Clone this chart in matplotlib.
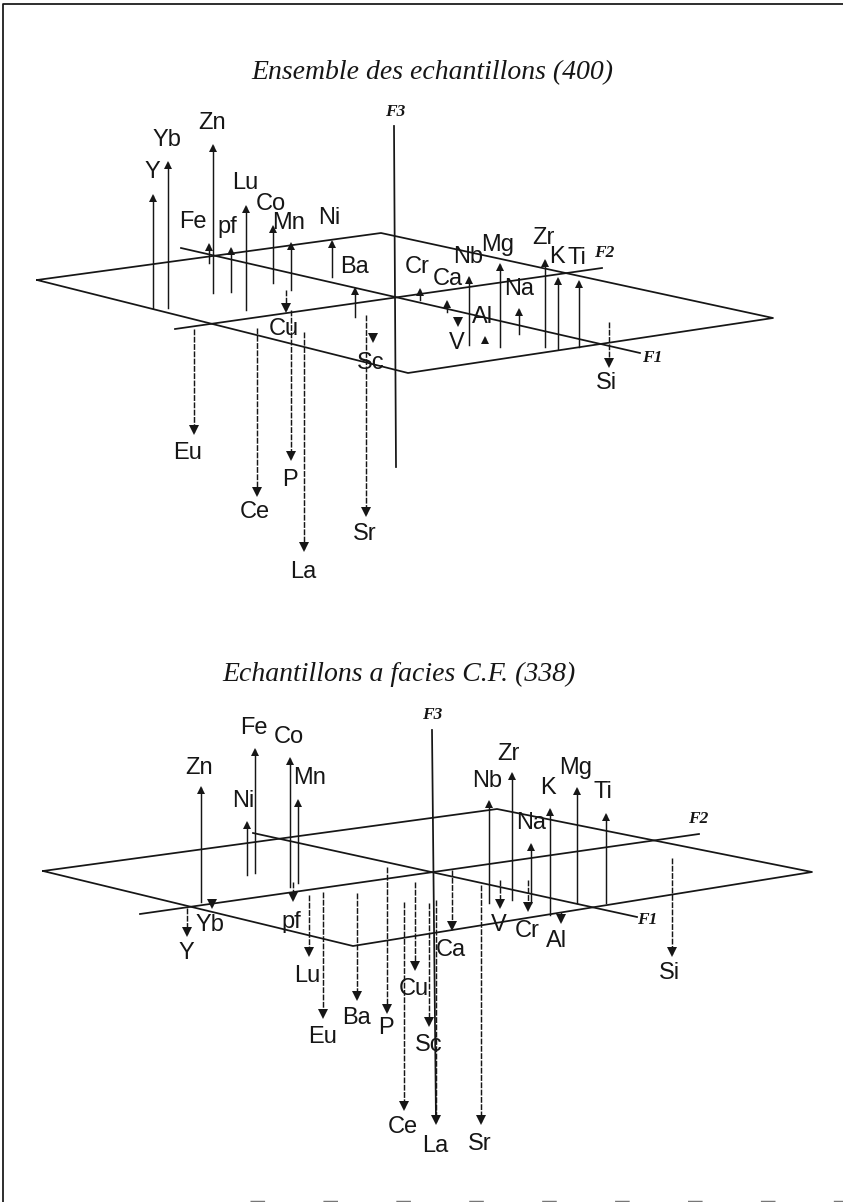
import matplotlib
matplotlib.use("Agg")
import matplotlib.pyplot as plt

# ---- top panel ----
top_title = "Ensemble des echantillons (400)"
top_plane_x = [37, 381, 773, 408, 37]
top_plane_y = [280, 233, 318, 373, 280]
top_f1 = ([181, 640], [248, 353])
top_f2 = ([175, 602], [329, 268])
top_f3 = ([394, 396], [126, 467])

top_up_names = ["Y", "Yb", "Zn", "Fe", "pf", "Lu", "Co", "Mn", "Ni", "Ba", "Cr", "Ca", "Nb", "Mg", "Na", "Zr", "K", "Ti", "Al"]
top_up_x = [153, 168, 213, 209, 231, 246, 273, 291, 332, 355, 420, 447, 469, 500, 519, 545, 558, 579, 485]
top_up_base = [308, 308, 293, 263, 292, 310, 283, 290, 277, 317, 300, 312, 345, 347, 334, 347, 349, 347, 342]
top_up_tip = [196, 163, 146, 245, 249, 207, 227, 244, 242, 289, 290, 302, 278, 265, 310, 261, 279, 282, 338]

top_down_names = ["Cu", "P", "Sc", "Sr", "Eu", "Ce", "La", "V", "Si"]
top_down_x = [286, 291, 373, 366, 194, 257, 304, 458, 609]
top_down_base = [290, 310, 335, 315, 329, 328, 332, 317, 322]
top_down_tip = [310, 458, 340, 514, 432, 494, 549, 324, 365]

top_label_names = ["Y", "Yb", "Zn", "Fe", "pf", "Lu", "Co", "Mn", "Ni", "Ba", "Cr", "Ca", "Nb", "Mg", "Na", "Zr", "K", "Ti", "Al",
                   "Cu", "P", "Sc", "Sr", "Eu", "Ce", "La", "V", "Si"]
top_label_x = [152, 167, 212, 193, 227, 245, 271, 289, 329, 354, 417, 448, 468, 498, 519, 543, 557, 577, 483,
               284, 290, 371, 365, 188, 255, 303, 457, 606]
top_label_y = [172, 140, 123, 222, 227, 183, 204, 223, 218, 267, 267, 279, 257, 245, 289, 238, 257, 258, 317,
               329, 480, 363, 534, 453, 512, 572, 343, 383]

# ---- bottom panel ----
bot_title = "Echantillons a facies C.F. (338)"
bot_plane_x = [43, 497, 812, 353, 43]
bot_plane_y = [871, 809, 872, 946, 871]
bot_f1 = ([253, 637], [833, 917])
bot_f2 = ([140, 699], [914, 834])
bot_f3 = ([432, 436], [730, 1122])

bot_up_names = ["Zn", "Ni", "Fe", "Co", "Mn", "Nb", "Zr", "Na", "K", "Mg", "Ti"]
bot_up_x = [201, 247, 255, 290, 298, 489, 512, 531, 550, 577, 606]
bot_up_base = [902, 875, 873, 887, 883, 903, 900, 903, 915, 903, 903]
bot_up_tip = [788, 823, 750, 759, 801, 802, 774, 845, 810, 789, 815]

bot_down_names = ["Y", "Yb", "pf", "Lu", "Eu", "Ba", "P", "Ce", "Cu", "Sc", "Ca", "Sr", "La", "V", "Cr", "Al", "Si"]
bot_down_x = [187, 212, 293, 309, 323, 357, 387, 404, 415, 429, 452, 481, 436, 500, 528, 561, 672]
bot_down_base = [908, 902, 882, 895, 892, 893, 867, 902, 882, 903, 870, 885, 900, 880, 880, 912, 858]
bot_down_tip = [934, 906, 899, 954, 1016, 998, 1011, 1108, 968, 1024, 928, 1122, 1122, 906, 909, 921, 954]

bot_label_names = ["Zn", "Ni", "Fe", "Co", "Mn", "Nb", "Zr", "Na", "K", "Mg", "Ti",
                   "Y", "Yb", "pf", "Lu", "Eu", "Ba", "P", "Ce", "Cu", "Sc", "Ca", "Sr", "La", "V", "Cr", "Al", "Si"]
bot_label_x = [199, 243, 254, 289, 310, 487, 508, 531, 548, 576, 603,
               186, 210, 291, 307, 323, 356, 386, 403, 414, 429, 451, 480, 435, 499, 527, 557, 669]
bot_label_y = [768, 801, 728, 737, 778, 781, 754, 823, 788, 768, 792,
               953, 925, 922, 976, 1037, 1018, 1028, 1127, 989, 1045, 950, 1144, 1146, 925, 931, 941, 973]

axis_names = ["F1", "F2", "F3"]
top_axis_lab_x = [652, 604, 395]
top_axis_lab_y = [358, 253, 112]
bot_axis_lab_x = [647, 698, 432]
bot_axis_lab_y = [920, 819, 715]

LW = 1.05
INK = "#161616"

fig = plt.figure(figsize=(8.43, 12.02), dpi=100)
ax = fig.add_axes([0, 0, 1, 1])
ax.set_xlim(0, 843)
ax.set_ylim(1202, 0)
ax.axis("off")

ax.plot([3, 3, 843], [1202, 4, 4], color=INK, lw=LW * 1.2)
ax.plot([250, 843], [1201, 1201], color="#777777", lw=LW, ls=(0, (10, 40)))


def panel(title, title_xy, plane_x, plane_y, f1, f2, f3,
          up_x, up_b, up_t, dn_x, dn_b, dn_t,
          names, lx, ly, ax_x, ax_y):
    ax.text(*title_xy, title, family="Liberation Serif", style="italic",
            fontsize=20, color=INK, ha="center", va="center")
    ax.plot(plane_x, plane_y, color=INK, lw=LW * 1.2, solid_joinstyle="round")
    for line in (f1, f2, f3):
        ax.plot(line[0], line[1], color=INK, lw=LW * 1.2)
    for x, b, t in zip(up_x, up_b, up_t):
        ax.plot([x, x], [b, t], color=INK, lw=LW)
        ax.plot([x], [t + 2], marker="^", ms=6, color=INK, mew=0)
    for x, b, t in zip(dn_x, dn_b, dn_t):
        ax.plot([x, x], [b, t], color=INK, lw=LW, ls=(0, (4, 1)))
        ax.plot([x], [t - 2], marker="v", ms=6.5, color=INK, mew=0)
    for n, x, y in zip(names, lx, ly):
        ax.text(x, y, n, family="Liberation Sans", fontsize=17, color=INK,
                ha="center", va="center")
    for n, x, y in zip(axis_names, ax_x, ax_y):
        ax.text(x, y, n, family="Liberation Serif", style="italic", weight="bold",
                fontsize=12.5, color=INK, ha="center", va="center")


panel(top_title, (432, 73), top_plane_x, top_plane_y, top_f1, top_f2, top_f3,
      top_up_x, top_up_base, top_up_tip, top_down_x, top_down_base, top_down_tip,
      top_label_names, top_label_x, top_label_y, top_axis_lab_x, top_axis_lab_y)
panel(bot_title, (399, 674), bot_plane_x, bot_plane_y, bot_f1, bot_f2, bot_f3,
      bot_up_x, bot_up_base, bot_up_tip, bot_down_x, bot_down_base, bot_down_tip,
      bot_label_names, bot_label_x, bot_label_y, bot_axis_lab_x, bot_axis_lab_y)

fig.savefig("out.png", dpi=100)
